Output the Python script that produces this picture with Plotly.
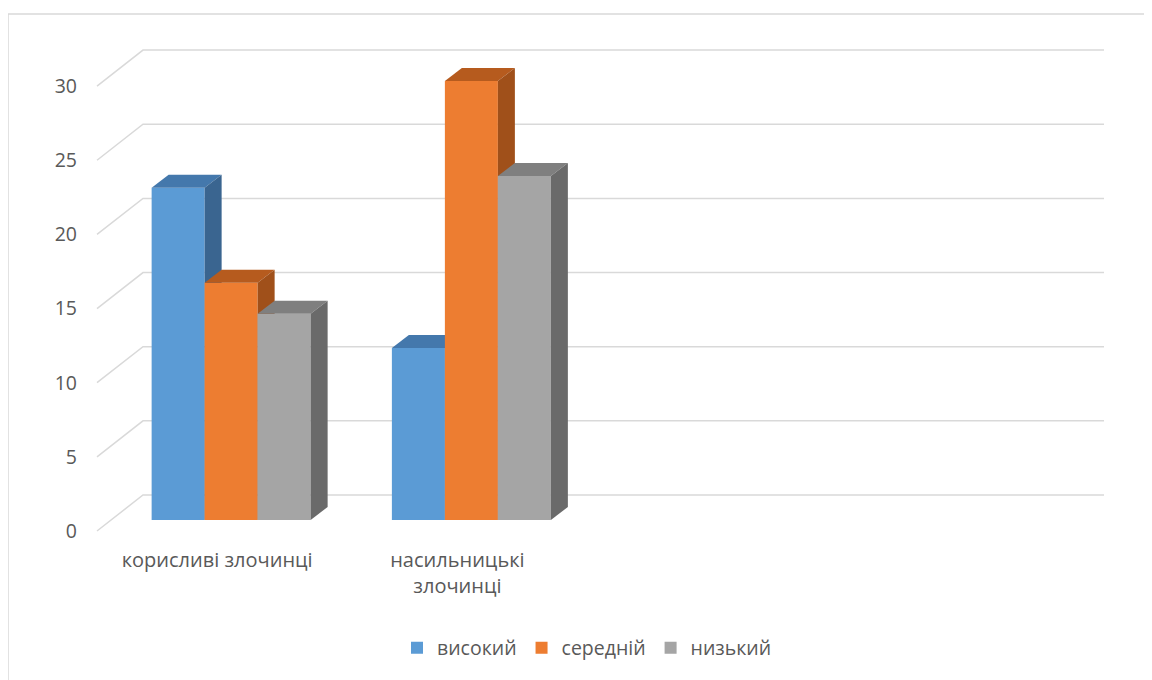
import plotly.graph_objects as go

# ---------------- data ----------------
categories = ["корисливі злочинці", "насильницькі злочинці"]
series_names = ["високий", "середній", "низький"]
high = [22.4, 11.6]
middle = [16.0, 29.6]
low = [13.9, 23.2]
series_values = [high, middle, low]
y_ticks = [0, 5, 10, 15, 20, 25, 30]
n_slots = 4  # category slots on the axis (two are empty)

# ---------------- styling ----------------
front_colors = ["#5B9BD5", "#ED7D31", "#A5A5A5"]
top_colors = ["#4478AC", "#B65B1E", "#7F7F7F"]
side_colors = ["#3A6590", "#A0501A", "#6A6A6A"]
grid_color = "#D9D9D9"
text_color = "#595959"
FONT = "Open Sans"
FS = 19.5

OFF = 8  # page body margin
W, H = 1144, 672
L, R, T, B = 80 - OFF, 1120 - OFF, 30 - OFF, 546 - OFF
PX_X = 240.25          # pixels per category
PX_Y = 14.83           # pixels per value unit
X0_PIX, Y0_PIX = 111 - OFF, 520 - OFF

xmin = -(X0_PIX - L) / PX_X
xmax = xmin + (R - L) / PX_X
ymin = -(B - Y0_PIX) / PX_Y
ymax = (Y0_PIX - T) / PX_Y

# depth offsets (pixels -> data)
front_dx, front_dy = -14 / PX_X, -11 / PX_Y
back_dx, back_dy = 32 / PX_X, 25 / PX_Y
bar_dx, bar_dy = 17 / PX_X, 13 / PX_Y
BW = 53 / PX_X

fig = go.Figure()

# gridlines (floor/back wall)
for v in y_ticks:
    fig.add_trace(go.Scatter(
        x=[front_dx, back_dx, n_slots + back_dx],
        y=[v + front_dy, v + back_dy, v + back_dy],
        mode="lines", line=dict(color=grid_color, width=1.5),
        showlegend=False, hoverinfo="skip", xaxis="x", yaxis="y"))

for s, (name, vals) in enumerate(zip(series_names, series_values)):
    ax = str(s + 2)
    xs = [i + 0.5 + (s - 1) * BW for i in range(len(vals))]
    fig.add_trace(go.Bar(
        x=xs, y=vals, width=BW, name=name,
        marker=dict(color=front_colors[s], line=dict(width=0)),
        xaxis="x" + ax, yaxis="y" + ax))
    for xc, v in zip(xs, vals):
        xl, xr = xc - BW / 2, xc + BW / 2
        # top face
        fig.add_trace(go.Scatter(
            x=[xl, xr, xr + bar_dx, xl + bar_dx, xl],
            y=[v, v, v + bar_dy, v + bar_dy, v],
            mode="lines", fill="toself", fillcolor=top_colors[s],
            line=dict(width=0, color=top_colors[s]),
            showlegend=False, hoverinfo="skip",
            xaxis="x" + ax, yaxis="y" + ax))
        # side face
        fig.add_trace(go.Scatter(
            x=[xr, xr, xr + bar_dx, xr + bar_dx, xr],
            y=[0, v, v + bar_dy, bar_dy, 0],
            mode="lines", fill="toself", fillcolor=side_colors[s],
            line=dict(width=0, color=side_colors[s]),
            showlegend=False, hoverinfo="skip",
            xaxis="x" + ax, yaxis="y" + ax))

cat_ticktext = ["корисливі злочинці", "насильницькі<br>злочинці"]

# chart-area border (left and top edges visible in the frame)
bx0 = (8 - OFF - L) / (R - L)
bx1 = (1300 - L) / (R - L)
by0 = (B - 800) / (B - T)
by1 = (B - (14 - OFF)) / (B - T)
border_path = f"M {bx0},{by0} L {bx0},{by1} L {bx1},{by1}"

layout = dict(
    width=W, height=H,
    margin=dict(l=L, r=W - R, t=T, b=H - B, pad=0),
    paper_bgcolor="white", plot_bgcolor="rgba(0,0,0,0)",
    font=dict(family=FONT, color=text_color, size=FS),
    showlegend=True,
    legend=dict(orientation="h", xanchor="center", yanchor="middle",
                x=(587 - OFF - L) / (R - L), y=(B - (648 - OFF)) / (B - T),
                font=dict(size=FS, color=text_color), traceorder="normal"),
    xaxis=dict(range=[xmin, xmax], showgrid=False, zeroline=False, showline=False,
               tickmode="array",
               tickvals=[i + 0.5 + front_dx for i in range(len(categories))],
               ticktext=cat_ticktext, ticks="",
               tickfont=dict(size=FS + 0.5, color=text_color)),
    yaxis=dict(range=[ymin, ymax], showgrid=False, zeroline=False, showline=False,
               tickmode="array",
               tickvals=[v + front_dy for v in y_ticks],
               ticktext=[str(v) for v in y_ticks], ticks="",
               ticklabelstandoff=2, tickfont=dict(size=FS, color=text_color)),
    shapes=[dict(type="path", xref="paper", yref="paper", path=border_path,
                 line=dict(color=grid_color, width=1.5), layer="below")],
)
for s in range(len(series_names)):
    ax = str(s + 2)
    layout["xaxis" + ax] = dict(range=[xmin, xmax], overlaying="x", visible=False)
    layout["yaxis" + ax] = dict(range=[ymin, ymax], overlaying="y", visible=False)

fig.update_layout(**layout)
fig.write_html("out.html")
